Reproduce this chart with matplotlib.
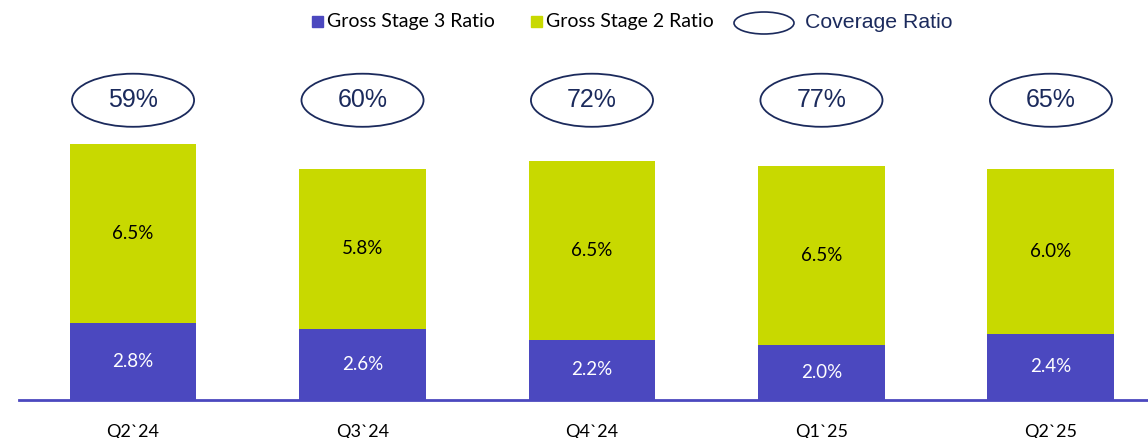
import matplotlib
matplotlib.use("Agg")
import matplotlib.pyplot as plt
from matplotlib.patches import Ellipse, Rectangle
import numpy as np

# data
quarters = ["Q2`24", "Q3`24", "Q4`24", "Q1`25", "Q2`25"]
stage3 = [2.8, 2.6, 2.2, 2.0, 2.4]
stage2 = [6.5, 5.8, 6.5, 6.5, 6.0]
coverage = [59, 60, 72, 77, 65]

purple = "#4B48BF"
lime = "#C8D900"
navy = "#1B2A5C"
label_font = "Lato"

W, H = 1148, 438
fig = plt.figure(figsize=(W / 100, H / 100), dpi=100)

# main axes: left edge where the baseline starts, bottom at the baseline
ax = fig.add_axes([19 / W, (H - 400) / H, 1 - 19 / W, 400 / H])
x = np.arange(len(quarters))
bw = 0.553

ax.bar(x, stage3, width=bw, color=purple, zorder=2)
ax.bar(x, stage2, width=bw, bottom=stage3, color=lime, zorder=2)

for i in range(len(quarters)):
    ax.text(x[i], stage3[i] / 2, f"{stage3[i]:.1f}%", ha="center", va="center",
            color="white", fontsize=13.5, family=label_font)
    ax.text(x[i], stage3[i] + stage2[i] / 2, f"{stage2[i]:.1f}%", ha="center",
            va="center", color="black", fontsize=13.5, family=label_font)
    ell = Ellipse((x[i], 10.9), 0.532, 1.93, fill=False, edgecolor=navy, lw=1.3)
    ax.add_patch(ell)
    ax.text(x[i], 10.9, f"{coverage[i]}%", ha="center", va="center",
            color=navy, fontsize=18, family="Liberation Sans")

ax.set_xlim(-0.497, 4.423)
ax.set_ylim(0, 400 / 27.5)

for s in ["top", "right", "left"]:
    ax.spines[s].set_visible(False)
ax.spines["bottom"].set_color(purple)
ax.spines["bottom"].set_linewidth(2)
ax.set_yticks([])
ax.set_xticks(x)
ax.set_xticklabels(quarters, fontsize=13, family=label_font)
ax.tick_params(axis="x", length=0, pad=17)

# legend drawn in pixel coordinates on an overlay
lg = fig.add_axes([0, 0, 1, 1])
lg.set_xlim(0, W)
lg.set_ylim(H, 0)
lg.axis("off")
lg.add_patch(Rectangle((312, 16), 11, 11, color=purple))
lg.text(327, 22, "Gross Stage 3 Ratio", va="center", ha="left", fontsize=14,
        family=label_font)
lg.add_patch(Rectangle((531, 16), 11, 11, color=lime))
lg.text(546, 22, "Gross Stage 2 Ratio", va="center", ha="left", fontsize=14,
        family=label_font)
lg.add_patch(Ellipse((764, 23), 60, 22, fill=False, edgecolor=navy, lw=1.2))
lg.text(805, 22, "Coverage Ratio", va="center", ha="left", fontsize=15.3,
        color=navy, family="Liberation Sans")

fig.savefig("out.png", dpi=100)
